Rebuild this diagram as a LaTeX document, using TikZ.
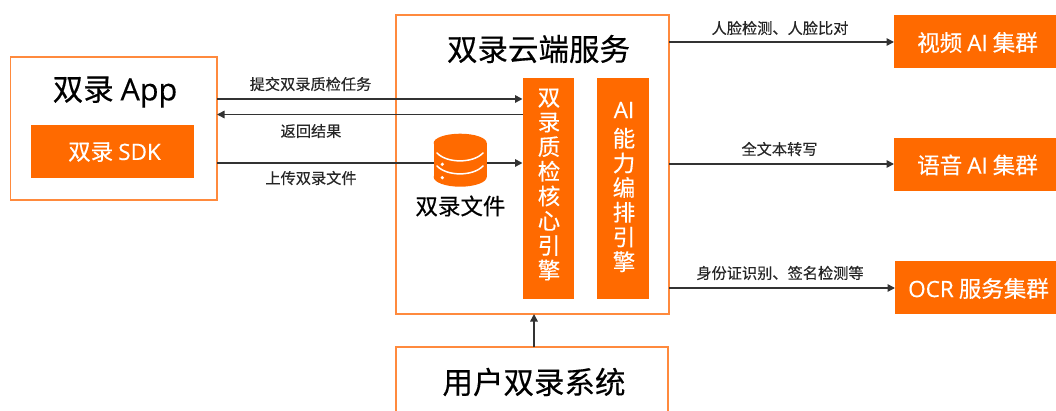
\documentclass[tikz,border=0pt]{standalone}
\usepackage{fontspec}
\setmainfont[FakeBold=0.35]{Noto Sans CJK SC}
\newfontfamily\latfont[FakeBold=0.35]{Open Sans}
\newcommand{\lat}[1]{{\latfont #1}}
\usetikzlibrary{arrows.meta}
\definecolor{brand}{HTML}{FF6A00}
\definecolor{edge}{HTML}{FF8A3D}
\definecolor{ink}{HTML}{333333}
\newcommand{\fs}[2]{\fontsize{#1}{#2}\selectfont}
\tikzset{
  frame/.style={draw=edge,line width=1.5pt,fill=white,inner sep=0pt,outer sep=0pt},
  solid box/.style={fill=brand,text=white,inner sep=0pt,outer sep=0pt},
  bigtext/.style={font=\fs{30.5}{36},text=black,inner sep=0pt},
  midtext/.style={font=\fs{22.5}{26},inner sep=0pt},
  smalltext/.style={font=\fs{15.2}{18},text=black!85,inner sep=0pt},
  vert/.style={font=\fs{22.5}{24.7},text=white,align=center,inner sep=0pt},
  link/.style={draw=ink,line width=1.5pt,-{Triangle[length=7.5pt,width=7.5pt]}},
}
\begin{document}
\begin{tikzpicture}[x=1pt,y=-1pt]
\useasboundingbox (0,0) rectangle (1056,411);
% frames
\node[frame,minimum width=206.5pt,minimum height=143pt] (app) at (113.75,128.5) {};
\node[solid box,minimum width=163pt,minimum height=53pt] (sdk) at (112.5,151.5) {};
\node[frame,minimum width=273pt,minimum height=299pt] (cloud) at (532.5,164.5) {};
\node[solid box,minimum width=51.5pt,minimum height=221pt] (core) at (548.25,188.5) {};
\node[solid box,minimum width=51.5pt,minimum height=221pt] (orch) at (622.75,188.5) {};
\node[inner sep=0pt,outer sep=0pt,minimum width=272pt,minimum height=64pt] (user) at (532,379) {};
\draw[draw=edge,line width=1.5pt] (user.south west) -- (user.north west) -- (user.north east) -- (user.south east);
\node[solid box,minimum width=162pt,minimum height=53pt] (video) at (975,41.5) {};
\node[solid box,minimum width=162pt,minimum height=53pt] (voice) at (975,164.5) {};
\node[solid box,minimum width=161pt,minimum height=53pt] (ocr) at (975.5,287.5) {};
% row coordinates
\coordinate (r1) at (0,99);
\coordinate (r2) at (0,114.5);
\coordinate (r3) at (0,163);
\coordinate (c1) at (0,42);
\coordinate (c2) at (0,164);
\coordinate (c3) at (0,288);
\coordinate (upx) at (534,0);
% connectors
\draw[link] (app.east |- r1) -- (core.west |- r1);
\draw[link] (core.west |- r2) -- (app.east |- r2);
\draw[link] (app.east |- r3) -- (core.west |- r3);
\draw[link] (cloud.east |- c1) -- (video.west |- c1);
\draw[link] (cloud.east |- c2) -- (voice.west |- c2);
\draw[link] (cloud.east |- c3) -- (ocr.west |- c3);
\draw[link] (user.north -| upx) -- (cloud.south -| upx);
% database icon
\fill[brand] (460.2,143) ellipse[x radius=26.5,y radius=9.3];
\fill[brand] (460.2,177) ellipse[x radius=26.5,y radius=9.7];
\fill[brand] (433.7,143) rectangle (486.7,177);
\draw[white,line width=1.5pt,line cap=round] (437,153) .. controls (447,163.5) and (473,163.5) .. (483,153);
\draw[white,line width=1.5pt,line cap=round] (437,166) .. controls (447,176.5) and (473,176.5) .. (483,166);
\fill[white] (442.3,164.3) circle[radius=1.8];
\fill[white] (442.3,177.7) circle[radius=1.8];
% texts
\node[bigtext] (tapp) at (115,92) {双录 \lat{App}};
\node[midtext,text=white] (tsdk) at (114.5,152) {双录 \lat{SDK}};
\node[bigtext] (tcloud) at (538.5,49) {双录云端服务};
\node[bigtext] (tuser) at (534,382) {用户双录系统};
\node[midtext,text=black] (tfile) at (460.5,206) {双录文件};
\node[vert] (tcore) at (549,184.5) {双\\录\\质\\检\\核\\心\\引\\擎};
\node[vert] (torch) at (624,187) {\lat{AI}\\[4pt]能\\力\\编\\排\\引\\擎};
\node[midtext,text=white] (tvideo) at (977.5,42.5) {视频 \lat{AI} 集群};
\node[midtext,text=white] (tvoice) at (977.5,165) {语音 \lat{AI} 集群};
\node[midtext,text=white] (tocr) at (978.5,288.5) {\lat{OCR} 服务集群};
\node[smalltext] (l1) at (310.5,84) {提交双录质检任务};
\node[smalltext] (l2) at (311,131) {返回结果};
\node[smalltext] (l3) at (311,178) {上传双录文件};
\node[smalltext] (l4) at (780,28) {人脸检测、人脸比对};
\node[smalltext] (l5) at (779.5,149) {全文本转写};
\node[smalltext] (l6) at (780,273) {身份证识别、签名检测等};
\end{tikzpicture}
\end{document}
